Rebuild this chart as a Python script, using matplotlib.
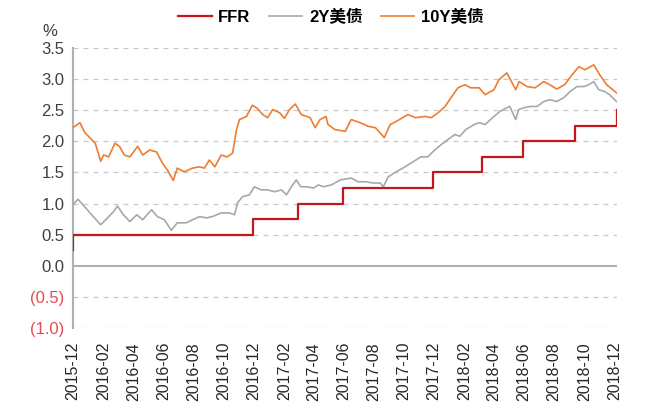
import matplotlib
matplotlib.use("Agg")
import matplotlib.pyplot as plt
import pandas as pd

plt.rcParams['font.family'] = ['Liberation Sans', 'Noto Sans CJK SC', 'DejaVu Sans']

# ---- data ----
ffr_dates = ['2015-12-15', '2015-12-16', '2016-12-14', '2017-03-15', '2017-06-14',
             '2017-12-13', '2018-03-21', '2018-06-13', '2018-09-26', '2018-12-19', '2018-12-20']
ffr_values = [0.25, 0.5, 0.75, 1.0, 1.25, 1.5, 1.75, 2.0, 2.25, 2.5, 2.5]

y2_dates = ['2015-12-15', '2015-12-25', '2016-01-13', '2016-01-25', '2016-02-09', '2016-02-23',
            '2016-03-06', '2016-03-14', '2016-03-26', '2016-04-08', '2016-04-22', '2016-05-04',
            '2016-05-22', '2016-06-03', '2016-06-17', '2016-07-01', '2016-07-13', '2016-07-31',
            '2016-08-13', '2016-08-27', '2016-09-10', '2016-09-22', '2016-10-10', '2016-10-26',
            '2016-11-06', '2016-11-12', '2016-11-22', '2016-12-06', '2016-12-16', '2016-12-30',
            '2017-01-12', '2017-01-26', '2017-02-09', '2017-02-19', '2017-03-01', '2017-03-11',
            '2017-03-20', '2017-04-01', '2017-04-15', '2017-04-25', '2017-05-05', '2017-05-21',
            '2017-06-08', '2017-06-30', '2017-07-14', '2017-07-30', '2017-08-13', '2017-08-28',
            '2017-09-03', '2017-09-13', '2017-09-29', '2017-10-17', '2017-11-02', '2017-11-18',
            '2017-12-02', '2017-12-16', '2017-12-28', '2018-01-12', '2018-01-26', '2018-02-05',
            '2018-02-17', '2018-03-06', '2018-03-16', '2018-03-28', '2018-04-15', '2018-04-27',
            '2018-05-11', '2018-05-17', '2018-05-29', '2018-06-04', '2018-06-15', '2018-06-27',
            '2018-07-11', '2018-07-25', '2018-08-06', '2018-08-20', '2018-09-03', '2018-09-16',
            '2018-09-30', '2018-10-14', '2018-10-24', '2018-11-03', '2018-11-13', '2018-11-25',
            '2018-12-05', '2018-12-19']
y2_values = [0.98, 1.07, 0.90, 0.79, 0.66, 0.77, 0.87, 0.96, 0.82, 0.71, 0.82, 0.74,
             0.90, 0.79, 0.74, 0.57, 0.69, 0.69, 0.74, 0.79, 0.77, 0.79, 0.85, 0.85,
             0.82, 1.01, 1.11, 1.14, 1.27, 1.22, 1.22, 1.19, 1.22, 1.14, 1.27, 1.38,
             1.27, 1.27, 1.25, 1.30, 1.27, 1.30, 1.38, 1.41, 1.35, 1.35, 1.33, 1.33,
             1.27, 1.43, 1.51, 1.59, 1.67, 1.75, 1.75, 1.86, 1.94, 2.03, 2.11, 2.08,
             2.19, 2.27, 2.30, 2.27, 2.40, 2.48, 2.54, 2.56, 2.35, 2.51, 2.54, 2.56,
             2.56, 2.64, 2.67, 2.64, 2.70, 2.80, 2.88, 2.88, 2.91, 2.96, 2.83, 2.80,
             2.75, 2.64]

y10_dates = ['2015-12-15', '2015-12-29', '2016-01-08', '2016-01-19', '2016-01-29', '2016-02-09',
             '2016-02-15', '2016-02-25', '2016-03-09', '2016-03-18', '2016-03-28', '2016-04-08',
             '2016-04-24', '2016-05-04', '2016-05-18', '2016-06-01', '2016-06-13', '2016-06-23',
             '2016-07-05', '2016-07-13', '2016-07-27', '2016-08-13', '2016-08-27', '2016-09-06',
             '2016-09-16', '2016-09-27', '2016-10-10', '2016-10-22', '2016-11-02', '2016-11-10',
             '2016-11-16', '2016-11-30', '2016-12-12', '2016-12-22', '2017-01-02', '2017-01-12',
             '2017-01-22', '2017-02-05', '2017-02-15', '2017-02-25', '2017-03-09', '2017-03-21',
             '2017-04-08', '2017-04-18', '2017-04-28', '2017-05-10', '2017-05-14', '2017-05-28',
             '2017-06-18', '2017-06-30', '2017-07-18', '2017-08-04', '2017-08-18', '2017-09-05',
             '2017-09-17', '2017-09-29', '2017-10-23', '2017-11-07', '2017-11-27', '2017-12-09',
             '2017-12-23', '2018-01-06', '2018-01-18', '2018-02-01', '2018-02-15', '2018-02-27',
             '2018-03-16', '2018-03-28', '2018-04-15', '2018-04-25', '2018-05-11', '2018-05-29',
             '2018-06-05', '2018-06-21', '2018-07-07', '2018-07-25', '2018-08-06', '2018-08-20',
             '2018-09-05', '2018-09-20', '2018-10-04', '2018-10-16', '2018-11-03', '2018-11-15',
             '2018-11-29', '2018-12-19']
y10_values = [2.22, 2.30, 2.14, 2.05, 1.97, 1.68, 1.78, 1.75, 1.97, 1.92, 1.78, 1.75,
              1.92, 1.78, 1.86, 1.83, 1.65, 1.54, 1.37, 1.57, 1.51, 1.57, 1.59, 1.57,
              1.70, 1.59, 1.78, 1.75, 1.81, 2.19, 2.35, 2.40, 2.58, 2.53, 2.43, 2.38,
              2.51, 2.46, 2.37, 2.51, 2.60, 2.43, 2.38, 2.22, 2.35, 2.40, 2.27, 2.19,
              2.16, 2.35, 2.30, 2.24, 2.22, 2.06, 2.27, 2.32, 2.43, 2.38, 2.40, 2.38,
              2.46, 2.56, 2.70, 2.86, 2.91, 2.86, 2.86, 2.75, 2.83, 2.99, 3.10, 2.83,
              2.96, 2.88, 2.86, 2.96, 2.91, 2.84, 2.91, 3.07, 3.20, 3.15, 3.23, 3.07,
              2.91, 2.78]

series_labels = ['FFR', '2Y美债', '10Y美债']
y_ticks = [3.5, 3.0, 2.5, 2.0, 1.5, 1.0, 0.5, 0.0, -0.5, -1.0]
x_tick_labels = ['2015-12', '2016-02', '2016-04', '2016-06', '2016-08', '2016-10',
                 '2016-12', '2017-02', '2017-04', '2017-06', '2017-08', '2017-10',
                 '2017-12', '2018-02', '2018-04', '2018-06', '2018-08', '2018-10', '2018-12']

# ---- plot ----
fig = plt.figure(figsize=(6.63, 4.11), dpi=100)
ax = fig.add_axes([73/663, 1-328/411, (617-73)/663, (328-48)/411])

red = '#c4161c'
grey = '#a8a8a8'
orange = '#ed7d31'

ax.plot(pd.to_datetime(y2_dates), y2_values, color=grey, lw=1.2, label=series_labels[1], zorder=3)
ax.plot(pd.to_datetime(y10_dates), y10_values, color=orange, lw=1.2, label=series_labels[2], zorder=3)
ax.plot(pd.to_datetime(ffr_dates), ffr_values, color=red, lw=1.6, drawstyle='steps-post',
        label=series_labels[0], zorder=4)

ax.set_ylim(-1.0, 3.5)
ax.set_yticks(y_ticks)
ax.set_xlim(pd.Timestamp('2015-12-15'), pd.Timestamp('2018-12-20'))

for v in y_ticks:
    if v == 0:
        ax.axhline(0, color='#b0b0b0', lw=1.5, zorder=2)
    else:
        ax.axhline(v, color='#c8c8c8', lw=0.9, ls=(0, (4, 4)), zorder=1)

def fmt(v):
    if v < 0:
        return '({:.1f})'.format(-v)
    return '{:.1f}'.format(v)

ax.set_yticklabels([fmt(v) for v in y_ticks])
for lab, v in zip(ax.get_yticklabels(), y_ticks):
    lab.set_color('#e84a4f' if v < 0 else '#404040')
    lab.set_fontsize(12)

xt = [pd.Timestamp(s + '-15') for s in x_tick_labels]
ax.set_xticks(xt)
ax.set_xticklabels(x_tick_labels, rotation=90, fontsize=11.5, color='#262626')

ax.tick_params(axis='both', length=0)
ax.tick_params(axis='x', pad=10)
ax.tick_params(axis='y', pad=6)

for s in ['top', 'right', 'bottom']:
    ax.spines[s].set_visible(False)
ax.spines['left'].set_color('#b0b0b0')
ax.spines['left'].set_linewidth(1.5)

fig.text(50/663, 1-32/411, '%', fontsize=12, color='#404040', ha='center', va='center')

handles, labels = ax.get_legend_handles_labels()
order = [2, 0, 1]
fig.legend([handles[i] for i in order], [labels[i] for i in order],
           loc='center', bbox_to_anchor=(331/663, 1-17/411), ncol=3, frameon=False,
           handlelength=2.0, columnspacing=1.1, handletextpad=0.4,
           prop={'size': 12, 'weight': 'bold'})

fig.savefig('out.png', dpi=100)
